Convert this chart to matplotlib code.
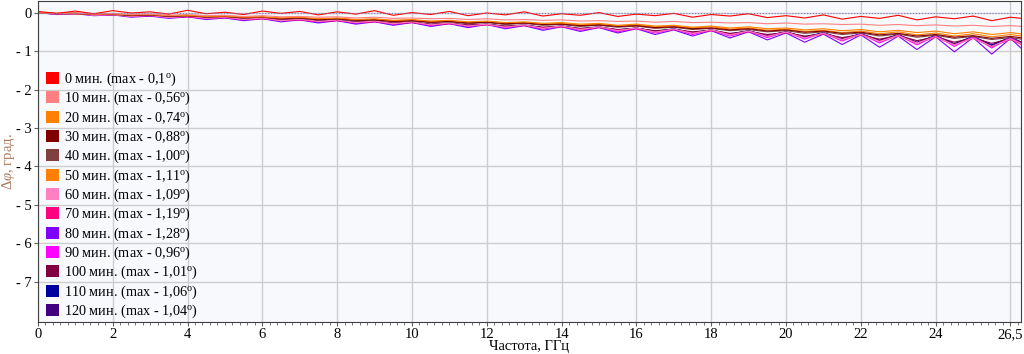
import numpy as np
import matplotlib
matplotlib.use('Agg')
import matplotlib.pyplot as plt
from matplotlib.patches import Patch
from matplotlib.ticker import MultipleLocator

plt.rcParams['font.family'] = ['Liberation Serif', 'DejaVu Serif']
plt.rcParams['mathtext.fontset'] = 'custom'
plt.rcParams['mathtext.rm'] = 'Liberation Serif'
plt.rcParams['mathtext.it'] = 'Liberation Serif:italic'

# частота, ГГц (шаг 0.5)
freq = np.arange(0, 26.51, 0.5)

minutes = [0, 10, 20, 30, 40, 50, 60, 70, 80, 90, 100, 110, 120]
max_dev = ['0,1', '0,56', '0,74', '0,88', '1,00', '1,11', '1,09',
           '1,19', '1,28', '0,96', '1,01', '1,06', '1,04']
colors = ['#ff0000', '#ff8080', '#ff8000', '#800000', '#804040', '#ff8000',
          '#ff80c0', '#ff0080', '#8000ff', '#ff00ff', '#800040', '#0000a0',
          '#400080']

d0 = [0.03, -0.02, 0.04, -0.03, 0.05, -0.01, 0.02, -0.04, 0.06, -0.03,
      0.01, -0.05, 0.04, -0.02, 0.03, -0.06, 0.02, -0.04, 0.05, -0.07,
      0.00, -0.05, 0.03, -0.08, -0.01, -0.06, 0.02, -0.09, -0.03, -0.07,
      0.00, -0.10, -0.04, -0.08, -0.02, -0.12, -0.05, -0.09, -0.03, -0.13,
      -0.08, -0.14, -0.06, -0.17, -0.10, -0.15, -0.07, -0.19, -0.11, -0.16,
      -0.09, -0.21, -0.12, -0.17]
d10 = [0.00, -0.02, -0.01, -0.04, -0.03, -0.05, -0.04, -0.07, -0.05, -0.08,
       -0.07, -0.10, -0.08, -0.11, -0.10, -0.12, -0.11, -0.14, -0.12, -0.15,
       -0.14, -0.16, -0.15, -0.18, -0.16, -0.19, -0.18, -0.20, -0.19, -0.22,
       -0.21, -0.23, -0.22, -0.25, -0.23, -0.26, -0.25, -0.27, -0.26, -0.29,
       -0.27, -0.30, -0.29, -0.31, -0.30, -0.33, -0.31, -0.34, -0.32, -0.35,
       -0.33, -0.36, -0.34, -0.37]
d20 = [0.00, -0.02, -0.01, -0.04, -0.03, -0.06, -0.05, -0.08, -0.07, -0.10,
       -0.09, -0.12, -0.11, -0.14, -0.12, -0.16, -0.14, -0.18, -0.16, -0.20,
       -0.18, -0.22, -0.20, -0.24, -0.22, -0.26, -0.24, -0.28, -0.26, -0.30,
       -0.28, -0.33, -0.30, -0.35, -0.33, -0.38, -0.35, -0.40, -0.37, -0.42,
       -0.40, -0.45, -0.42, -0.47, -0.44, -0.50, -0.46, -0.52, -0.48, -0.55,
       -0.50, -0.57, -0.52, -0.58]
d30 = [0.00, -0.03, -0.02, -0.05, -0.04, -0.07, -0.06, -0.09, -0.08, -0.11,
       -0.10, -0.13, -0.12, -0.16, -0.14, -0.18, -0.16, -0.20, -0.19, -0.23,
       -0.21, -0.25, -0.23, -0.27, -0.25, -0.29, -0.27, -0.31, -0.30, -0.34,
       -0.32, -0.36, -0.34, -0.39, -0.37, -0.42, -0.40, -0.45, -0.42, -0.48,
       -0.45, -0.51, -0.48, -0.54, -0.51, -0.58, -0.54, -0.61, -0.57, -0.64,
       -0.60, -0.67, -0.62, -0.68]
d40 = [0.01, -0.03, -0.01, -0.05, -0.04, -0.08, -0.06, -0.10, -0.08, -0.12,
       -0.10, -0.14, -0.12, -0.17, -0.15, -0.19, -0.17, -0.22, -0.19, -0.24,
       -0.22, -0.26, -0.24, -0.29, -0.26, -0.31, -0.28, -0.33, -0.31, -0.36,
       -0.33, -0.38, -0.35, -0.41, -0.38, -0.44, -0.41, -0.47, -0.44, -0.50,
       -0.47, -0.54, -0.50, -0.57, -0.53, -0.61, -0.56, -0.64, -0.59, -0.67,
       -0.62, -0.70, -0.65, -0.72]
d50 = [0.00, -0.02, -0.03, -0.04, -0.05, -0.07, -0.06, -0.09, -0.08, -0.11,
       -0.10, -0.13, -0.12, -0.15, -0.14, -0.17, -0.16, -0.19, -0.18, -0.21,
       -0.20, -0.23, -0.22, -0.26, -0.24, -0.28, -0.26, -0.30, -0.28, -0.32,
       -0.30, -0.35, -0.32, -0.37, -0.35, -0.40, -0.37, -0.43, -0.40, -0.46,
       -0.43, -0.49, -0.46, -0.52, -0.48, -0.55, -0.50, -0.58, -0.53, -0.61,
       -0.55, -0.63, -0.57, -0.64]
d60 = [0.00, -0.04, -0.02, -0.07, -0.05, -0.10, -0.07, -0.13, -0.09, -0.15,
       -0.12, -0.18, -0.14, -0.21, -0.17, -0.23, -0.19, -0.26, -0.22, -0.29,
       -0.24, -0.32, -0.27, -0.35, -0.30, -0.38, -0.32, -0.41, -0.35, -0.44,
       -0.37, -0.47, -0.40, -0.51, -0.43, -0.54, -0.45, -0.58, -0.48, -0.62,
       -0.51, -0.66, -0.54, -0.70, -0.57, -0.75, -0.60, -0.79, -0.63, -0.84,
       -0.66, -0.88, -0.68, -0.90]
d70 = [0.01, -0.03, -0.03, -0.06, -0.06, -0.09, -0.08, -0.12, -0.11, -0.15,
       -0.13, -0.18, -0.16, -0.20, -0.19, -0.23, -0.21, -0.26, -0.24, -0.29,
       -0.26, -0.32, -0.29, -0.34, -0.32, -0.37, -0.34, -0.40, -0.37, -0.43,
       -0.39, -0.46, -0.42, -0.50, -0.44, -0.53, -0.47, -0.57, -0.50, -0.61,
       -0.52, -0.65, -0.55, -0.70, -0.58, -0.74, -0.61, -0.79, -0.64, -0.83,
       -0.67, -0.88, -0.70, -0.91]
d80 = [0.00, -0.05, -0.03, -0.08, -0.06, -0.12, -0.09, -0.15, -0.11, -0.18,
       -0.14, -0.21, -0.16, -0.24, -0.19, -0.27, -0.21, -0.30, -0.24, -0.33,
       -0.26, -0.36, -0.29, -0.39, -0.31, -0.42, -0.34, -0.46, -0.37, -0.49,
       -0.39, -0.53, -0.42, -0.57, -0.45, -0.61, -0.47, -0.66, -0.50, -0.71,
       -0.53, -0.77, -0.56, -0.83, -0.58, -0.90, -0.61, -0.96, -0.63, -1.02,
       -0.65, -1.08, -0.67, -1.12]
d90 = [0.00, -0.04, -0.02, -0.07, -0.05, -0.10, -0.08, -0.13, -0.10, -0.16,
       -0.13, -0.19, -0.15, -0.22, -0.18, -0.25, -0.20, -0.28, -0.23, -0.31,
       -0.25, -0.34, -0.28, -0.37, -0.30, -0.40, -0.33, -0.43, -0.35, -0.46,
       -0.38, -0.50, -0.40, -0.53, -0.43, -0.57, -0.45, -0.61, -0.48, -0.65,
       -0.50, -0.69, -0.53, -0.74, -0.55, -0.79, -0.58, -0.84, -0.60, -0.88,
       -0.62, -0.92, -0.64, -0.95]
d100 = [0.00, -0.03, -0.03, -0.06, -0.05, -0.09, -0.08, -0.11, -0.10, -0.14,
        -0.13, -0.16, -0.15, -0.19, -0.18, -0.22, -0.20, -0.24, -0.23, -0.27,
        -0.25, -0.30, -0.28, -0.32, -0.31, -0.35, -0.33, -0.38, -0.36, -0.41,
        -0.38, -0.44, -0.41, -0.47, -0.44, -0.50, -0.46, -0.54, -0.49, -0.57,
        -0.52, -0.61, -0.55, -0.65, -0.58, -0.69, -0.60, -0.73, -0.63, -0.77,
        -0.66, -0.80, -0.68, -0.82]
d110 = [0.01, -0.03, -0.02, -0.06, -0.05, -0.09, -0.07, -0.12, -0.10, -0.14,
        -0.12, -0.17, -0.15, -0.20, -0.17, -0.22, -0.20, -0.25, -0.22, -0.28,
        -0.25, -0.31, -0.27, -0.33, -0.30, -0.36, -0.32, -0.39, -0.35, -0.42,
        -0.37, -0.45, -0.40, -0.49, -0.42, -0.52, -0.45, -0.56, -0.47, -0.60,
        -0.50, -0.64, -0.52, -0.69, -0.55, -0.73, -0.57, -0.78, -0.60, -0.82,
        -0.62, -0.86, -0.64, -0.88]
d120 = [0.00, -0.04, -0.02, -0.06, -0.05, -0.09, -0.08, -0.12, -0.10, -0.15,
        -0.13, -0.17, -0.15, -0.20, -0.18, -0.23, -0.20, -0.26, -0.23, -0.29,
        -0.25, -0.31, -0.28, -0.34, -0.30, -0.37, -0.33, -0.40, -0.35, -0.43,
        -0.38, -0.46, -0.40, -0.49, -0.43, -0.53, -0.45, -0.56, -0.48, -0.60,
        -0.50, -0.64, -0.53, -0.68, -0.55, -0.72, -0.58, -0.77, -0.60, -0.81,
        -0.62, -0.84, -0.64, -0.86]

series = [d0, d10, d20, d30, d40, d50, d60, d70, d80, d90, d100, d110, d120]

fig = plt.figure(figsize=(10.24, 3.54), dpi=100)
ax = fig.add_axes([0.037, 0.09, 0.96, 0.907])
ax.set_facecolor('#f8f9fd')

# red on top -> draw in reverse
for i in reversed(range(len(series))):
    ax.plot(freq, series[i], color=colors[i], lw=0.8)

ax.axhline(0, color='#8080c0', lw=0.8, ls=':')

ax.set_xlim(0, 26.28)
ax.set_ylim(-8.05, 0.3)

xt = [0, 2, 4, 6, 8, 10, 12, 14, 16, 18, 20, 22, 24, 26]
xl = [str(v) for v in xt[:-1]] + ['26,5']
ax.set_xticks(xt, xl)
ax.xaxis.set_minor_locator(MultipleLocator(0.2))
yt = [0, -1, -2, -3, -4, -5, -6, -7]
ax.set_yticks(yt, ['0' if v == 0 else '- %d' % abs(v) for v in yt])

ax.tick_params(axis='both', which='major', labelsize=10.5, length=3, color='#606060', pad=1.5)
ax.tick_params(axis='x', which='minor', length=2, color='#606060')
ax.grid(True, which='major', color='#cdcdcd', lw=1)
ax.set_axisbelow(True)
for s in ax.spines.values():
    s.set_color('#404040')

ax.set_xlabel('Частота, ГГц', fontsize=10.5)
ax.xaxis.set_label_coords(0.5, -0.055)
ax.set_ylabel(r'$\Delta\varphi$, град.', fontsize=10.5, color='#a87858')
ax.yaxis.set_label_coords(-0.0215, 0.5)

handles = [Patch(facecolor=c, edgecolor='none') for c in colors]
labels = ['%d мин. (max - %s$^{\\rm o}$)' % (m, v) for m, v in zip(minutes, max_dev)]
ax.legend(handles, labels, loc='upper left', bbox_to_anchor=(0.0, 0.81),
          frameon=False, fontsize=10.3, handlelength=0.9, handleheight=0.9,
          handletextpad=0.3, labelspacing=0.14, borderaxespad=0.2)

fig.savefig('out.png', dpi=100)
